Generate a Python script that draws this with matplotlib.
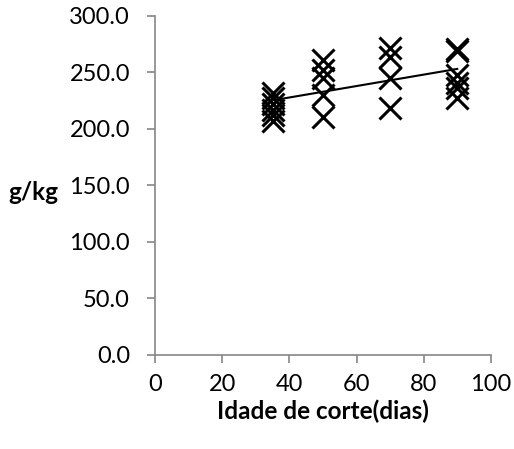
import numpy as np
import matplotlib.pyplot as plt

# cutting age (days) and content (g/kg)
dias = [35, 35, 35, 35, 35, 35,
        50, 50, 50, 50, 50,
        70, 70, 70, 70,
        90, 90, 90, 90, 90, 90]
gkg = [232, 227, 222, 217, 212, 207,
       261, 252, 245, 230, 211,
       272, 264, 245, 219,
       271, 269, 248, 241, 236, 227]

xticks = [0, 20, 40, 60, 80, 100]
yticks = [0, 50, 100, 150, 200, 250, 300]

plt.rcParams['font.family'] = ['Lato', 'DejaVu Sans']

fig = plt.figure(figsize=(5.14, 4.49), dpi=100)
ax = fig.add_axes([0.3016, 0.2094, 0.6533, 0.755])

ax.plot(dias, gkg, linestyle='none', marker='x', markersize=15.5,
        markeredgewidth=2.2, color='black', clip_on=False)

# linear trendline
a, b = np.polyfit(dias, gkg, 1)
xs = np.array([min(dias), max(dias)])
ax.plot(xs, a * xs + b, color='black', linewidth=1.5)

ax.set_xlim(0, 100)
ax.set_ylim(0, 300)
ax.set_xticks(xticks)
ax.set_yticks(yticks)
ax.set_yticklabels([f'{v:.1f}' for v in yticks])

for s in ['top', 'right']:
    ax.spines[s].set_visible(False)
for s in ['left', 'bottom']:
    ax.spines[s].set_color('#868686')
    ax.spines[s].set_linewidth(1.2)
ax.tick_params(axis='both', direction='out', length=6, width=1.2,
               color='#868686', labelsize=17, labelcolor='black')
ax.tick_params(axis='x', pad=8)
ax.tick_params(axis='y', pad=12)

ax.set_xlabel('Idade de corte(dias)', fontsize=17.5, fontweight='bold', va='center')
ax.xaxis.set_label_coords(0.5, (355 - 411) / 339)
fig.text(8 / 514, 1 - 192 / 449, 'g/kg', fontsize=17.5, fontweight='bold',
         ha='left', va='center')

fig.savefig('out.png', dpi=100)
